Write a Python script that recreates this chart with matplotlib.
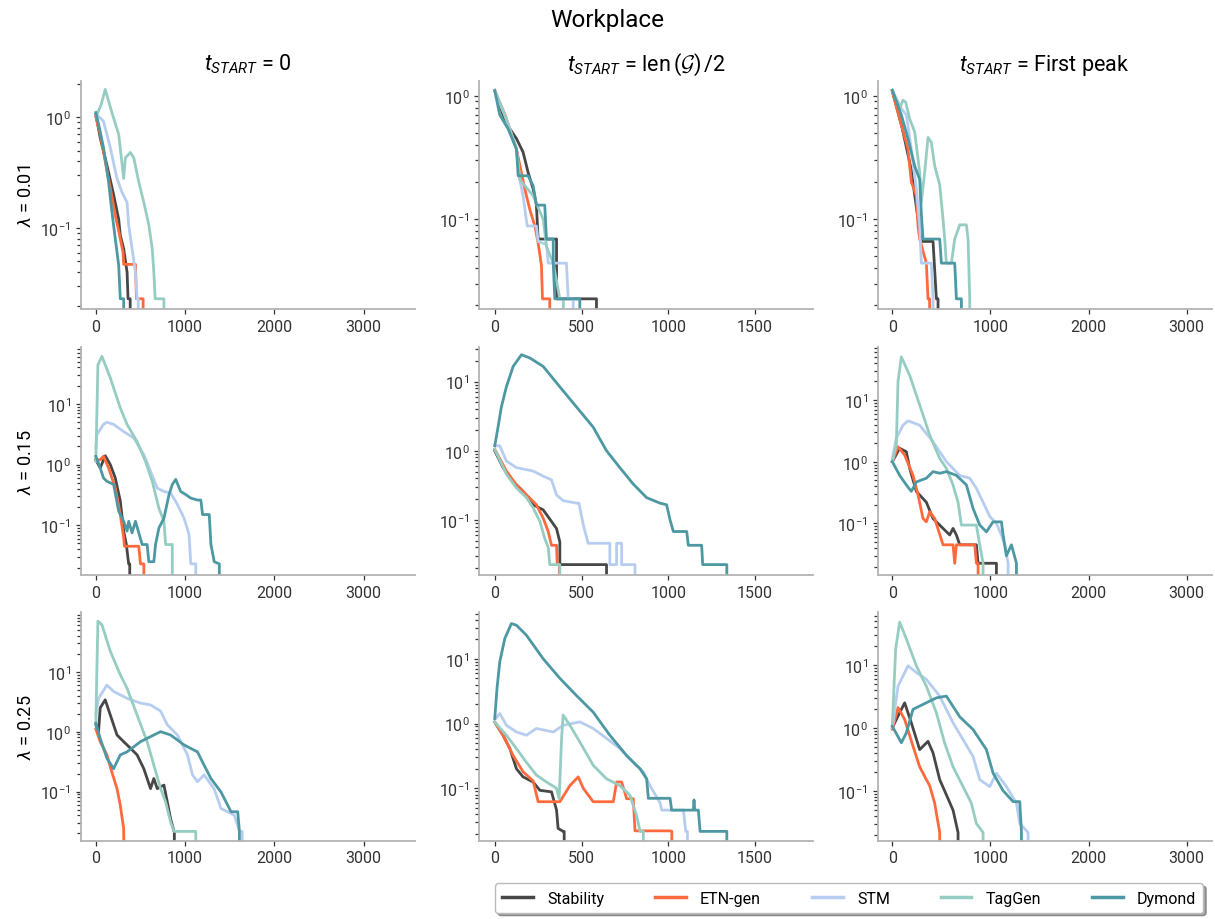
import matplotlib
matplotlib.use("Agg")
from matplotlib import pyplot as plt

# methods and colours
methods = ["Stability", "ETN-gen", "STM", "TagGen", "Dymond"]
colors = ["#474747", "#ff6a3d", "#b7cdf0", "#96cdc2", "#4c98a3"]

col_titles = [r"$t_{START}$ = 0", r"$t_{START}$ = len$\,(\mathcal{G})\,/$2", r"$t_{START}$ = First peak"]
row_titles = [r"$\lambda$ = 0.01", r"$\lambda$ = 0.15", r"$\lambda$ = 0.25"]

# each curve: (x values, y values); a trailing 0.001 means the curve drops to zero
lam001_zero = {
    "Stability": ([0, 49, 124, 199, 256, 274, 312, 350, 361, 385, 385],
                  [1.06, 0.65, 0.37, 0.2, 0.12, 0.086, 0.065, 0.04, 0.023, 0.023, 0.001]),
    "ETN-gen": ([0, 50, 100, 162, 218, 256, 305, 312, 444, 455, 530, 530],
                [1.0, 0.7, 0.42, 0.23, 0.13, 0.094, 0.06, 0.047, 0.047, 0.023, 0.023, 0.001]),
    "STM": ([10, 86, 162, 237, 293, 350, 368, 406, 444, 462, 475, 475],
            [1.05, 0.92, 0.53, 0.28, 0.21, 0.17, 0.106, 0.065, 0.04, 0.023, 0.023, 0.001]),
    "TagGen": ([10, 60, 105, 180, 256, 312, 331, 387, 425, 481, 538, 594, 632, 650, 665, 763, 763],
               [1.04, 1.3, 1.78, 1.1, 0.7, 0.28, 0.43, 0.48, 0.43, 0.26, 0.17, 0.106, 0.065, 0.04, 0.023, 0.023, 0.001]),
    "Dymond": ([0, 40, 86, 143, 180, 218, 256, 274, 312, 312],
               [1.1, 0.8, 0.53, 0.26, 0.14, 0.08, 0.046, 0.023, 0.023, 0.001]),
}

lam001_half = {
    "Stability": ([0, 48, 87, 125, 163, 192, 221, 240, 250, 356, 356, 586, 586],
                  [1.11, 0.7, 0.54, 0.45, 0.35, 0.24, 0.176, 0.13, 0.069, 0.069, 0.0226, 0.0226, 0.001]),
    "ETN-gen": ([0, 60, 125, 173, 202, 231, 250, 269, 275, 317, 317],
                [1.1, 0.7, 0.37, 0.176, 0.12, 0.088, 0.064, 0.042, 0.0226, 0.0226, 0.001]),
    "STM": ([0, 67, 125, 144, 163, 187, 240, 250, 298, 308, 413, 423, 452, 452],
            [1.11, 0.65, 0.37, 0.21, 0.155, 0.088, 0.088, 0.066, 0.062, 0.044, 0.044, 0.0226, 0.0226, 0.001]),
    "TagGen": ([0, 60, 125, 144, 221, 279, 298, 337, 375, 395, 395],
               [1.1, 0.68, 0.37, 0.21, 0.155, 0.1, 0.06, 0.044, 0.0226, 0.0226, 0.001]),
    "Dymond": ([0, 29, 77, 125, 135, 192, 221, 240, 288, 298, 337, 337, 346, 490, 490],
               [1.1, 0.7, 0.54, 0.37, 0.225, 0.225, 0.187, 0.13, 0.13, 0.069, 0.069, 0.044, 0.0226, 0.0226, 0.001]),
}

lam001_peak = {
    "Stability": ([0, 100, 194, 262, 296, 415, 449, 466, 466],
                  [1.1, 0.55, 0.25, 0.1, 0.066, 0.066, 0.0226, 0.0226, 0.001]),
    "ETN-gen": ([0, 160, 194, 245, 262, 279, 347, 364, 380, 380],
                [1.08, 0.37, 0.2, 0.155, 0.088, 0.069, 0.044, 0.0226, 0.0226, 0.001]),
    "STM": ([0, 92, 143, 194, 245, 279, 296, 398, 415, 415],
            [1.11, 0.79, 0.7, 0.37, 0.176, 0.088, 0.044, 0.044, 0.0226, 0.001]),
    "TagGen": ([0, 75, 109, 136, 177, 228, 279, 296, 330, 364, 398, 432, 483, 517, 534, 551, 602, 636, 687,
                755, 772, 789, 789],
               [1.11, 0.79, 0.92, 0.89, 0.65, 0.51, 0.24, 0.137, 0.24, 0.46, 0.42, 0.27, 0.19, 0.1, 0.069, 0.044,
                0.044, 0.069, 0.09, 0.09, 0.069, 0.0226, 0.001]),
    "Dymond": ([0, 92, 160, 228, 279, 296, 313, 483, 500, 636, 653, 704, 704],
               [1.11, 0.7, 0.45, 0.27, 0.21, 0.11, 0.069, 0.069, 0.044, 0.044, 0.0226, 0.0226, 0.001]),
}

lam015_zero = {
    "Stability": ([0, 49, 105, 162, 218, 274, 312, 342, 368, 380, 380],
                  [1.2, 0.88, 1.4, 1.0, 0.6, 0.25, 0.08, 0.048, 0.023, 0.023, 0.001]),
    "ETN-gen": ([0, 49, 86, 143, 218, 274, 312, 320, 481, 500, 538, 538],
                [1.2, 1.2, 1.37, 0.88, 0.41, 0.15, 0.062, 0.045, 0.045, 0.023, 0.023, 0.001]),
    "STM": ([0, 11, 86, 124, 199, 312, 425, 538, 613, 688, 763, 838, 914, 989, 1045, 1064, 1120, 1120],
            [1.9, 3.1, 4.6, 5.0, 4.6, 3.5, 2.75, 1.46, 0.78, 0.41, 0.36, 0.34, 0.22, 0.13, 0.07, 0.023, 0.023, 0.001]),
    "TagGen": ([0, 23, 68, 162, 274, 350, 462, 556, 632, 707, 763, 782, 857, 857],
               [1.13, 44, 61, 27, 8.6, 4.6, 2.4, 1.13, 0.53, 0.19, 0.117, 0.048, 0.048, 0.001]),
    "Dymond": ([0, 49, 86, 124, 199, 256, 312, 350, 368, 406, 444, 481, 519, 575, 594, 650, 669, 707, 763, 820,
                857, 895, 951, 1008, 1064, 1139, 1177, 1196, 1271, 1290, 1327, 1384, 1384],
               [1.37, 0.88, 0.6, 0.53, 0.47, 0.17, 0.116, 0.08, 0.116, 0.075, 0.116, 0.075, 0.048, 0.048, 0.025,
                0.025, 0.048, 0.09, 0.13, 0.32, 0.47, 0.57, 0.36, 0.32, 0.28, 0.26, 0.26, 0.15, 0.15, 0.048, 0.025,
                0.023, 0.001]),
}

lam015_half = {
    "Stability": ([0, 48, 106, 163, 221, 279, 327, 356, 375, 375, 644, 644],
                  [1.0, 0.57, 0.36, 0.26, 0.166, 0.14, 0.095, 0.075, 0.048, 0.0226, 0.0226, 0.001]),
    "ETN-gen": ([0, 67, 125, 183, 240, 279, 308, 327, 356, 360, 372, 372],
                [1.05, 0.51, 0.32, 0.23, 0.166, 0.106, 0.068, 0.043, 0.043, 0.0226, 0.0226, 0.001]),
    "STM": ([0, 29, 67, 125, 221, 279, 327, 356, 394, 471, 485, 510, 538, 663, 663, 702, 702, 731, 731, 808, 808],
            [1.18, 1.18, 0.71, 0.57, 0.51, 0.43, 0.38, 0.23, 0.19, 0.175, 0.175, 0.085, 0.046, 0.046, 0.0226,
             0.0226, 0.046, 0.046, 0.0226, 0.0226, 0.001]),
    "TagGen": ([0, 67, 125, 183, 221, 260, 288, 308, 317, 375, 375],
               [1.05, 0.46, 0.29, 0.21, 0.15, 0.095, 0.054, 0.04, 0.0226, 0.0226, 0.001]),
    "Dymond": ([0, 19, 38, 67, 106, 154, 202, 279, 375, 471, 567, 644, 721, 798, 875, 952, 990, 1010, 1029, 1106,
                1115, 1192, 1198, 1337, 1337],
               [1.18, 2.2, 4.3, 8.4, 16.6, 24.5, 22, 16.6, 8.4, 4.3, 2.2, 1.0, 0.57, 0.33, 0.21, 0.175, 0.166, 0.1,
                0.068, 0.068, 0.043, 0.043, 0.0226, 0.0226, 0.001]),
}

lam015_peak = {
    "Stability": ([0, 75, 143, 177, 245, 347, 415, 517, 585, 619, 653, 687, 857, 874, 1061, 1061],
                  [1.0, 1.65, 1.45, 0.78, 0.33, 0.22, 0.12, 0.083, 0.065, 0.083, 0.065, 0.045, 0.045, 0.0226,
                   0.0226, 0.001]),
    "ETN-gen": ([0, 58, 126, 211, 262, 313, 347, 381, 432, 517, 619, 636, 653, 840, 857, 874, 874],
                [1.0, 1.75, 1.28, 0.6, 0.29, 0.12, 0.106, 0.155, 0.12, 0.045, 0.045, 0.0226, 0.045, 0.045, 0.0226,
                 0.0226, 0.001]),
    "STM": ([0, 41, 109, 160, 279, 415, 551, 687, 789, 857, 925, 993, 1061, 1112, 1146, 1180, 1180],
            [1.13, 2.4, 3.9, 4.6, 3.9, 2.1, 1.0, 0.6, 0.54, 0.37, 0.22, 0.13, 0.1, 0.065, 0.045, 0.0226, 0.001]),
    "TagGen": ([0, 41, 58, 92, 177, 279, 381, 483, 551, 619, 670, 704, 857, 891, 925, 925],
               [1.0, 1.86, 19.8, 50, 25, 8.3, 2.7, 1.13, 0.78, 0.42, 0.22, 0.094, 0.094, 0.045, 0.0226, 0.001]),
    "Dymond": ([0, 75, 143, 194, 245, 347, 415, 483, 551, 653, 755, 823, 891, 959, 1027, 1112, 1129, 1163, 1214,
                1265, 1265],
               [1.0, 0.6, 0.42, 0.33, 0.47, 0.54, 0.69, 0.65, 0.69, 0.6, 0.42, 0.175, 0.094, 0.073, 0.106, 0.106,
                0.065, 0.03, 0.045, 0.0226, 0.001]),
}

lam025_zero = {
    "Stability": ([0, 30, 49, 105, 162, 237, 312, 387, 462, 538, 613, 650, 688, 763, 801, 838, 876, 880, 880],
                  [1.3, 1.0, 2.5, 3.4, 1.9, 0.88, 0.68, 0.53, 0.41, 0.24, 0.112, 0.165, 0.112, 0.128, 0.067, 0.035,
                   0.0216, 0.0216, 0.001]),
    "ETN-gen": ([0, 49, 124, 180, 237, 274, 312, 320],
                [1.1, 0.68, 0.41, 0.21, 0.112, 0.059, 0.024, 0.001]),
    "STM": ([0, 30, 124, 199, 350, 500, 613, 726, 801, 914, 1027, 1083, 1139, 1214, 1327, 1403, 1478, 1553, 1609,
             1640, 1640],
            [2.0, 3.6, 6.0, 4.7, 3.6, 3.0, 2.8, 2.2, 1.3, 0.88, 0.41, 0.19, 0.146, 0.19, 0.11, 0.052, 0.046, 0.04,
             0.0216, 0.0216, 0.001]),
    "TagGen": ([0, 11, 23, 68, 162, 274, 350, 462, 575, 650, 726, 782, 838, 876, 1120, 1120],
               [1.3, 10, 70, 61, 22, 8.9, 5.3, 1.9, 0.68, 0.276, 0.112, 0.067, 0.031, 0.0216, 0.0216, 0.001]),
    "Dymond": ([0, 49, 124, 199, 274, 350, 500, 650, 726, 838, 989, 1139, 1196, 1290, 1403, 1515, 1590, 1609, 1609],
               [1.38, 0.77, 0.36, 0.24, 0.41, 0.46, 0.68, 0.88, 1.0, 0.88, 0.6, 0.46, 0.31, 0.165, 0.098, 0.046,
                0.046, 0.0216, 0.001]),
}

lam025_half = {
    "Stability": ([0, 48, 87, 125, 163, 221, 260, 327, 356, 365, 394, 400, 400],
                  [1.05, 0.66, 0.41, 0.2, 0.15, 0.125, 0.093, 0.088, 0.046, 0.024, 0.0216, 0.0216, 0.001]),
    "ETN-gen": ([0, 48, 106, 163, 221, 250, 375, 433, 481, 510, 567, 683, 702, 731, 760, 798, 808, 1010, 1020, 1020],
                [1.05, 0.66, 0.32, 0.18, 0.13, 0.062, 0.062, 0.11, 0.15, 0.1, 0.062, 0.062, 0.125, 0.125, 0.069,
                 0.069, 0.022, 0.022, 0.0216, 0.001]),
    "STM": ([0, 29, 67, 125, 183, 240, 337, 394, 490, 567, 644, 721, 798, 856, 894, 952, 962, 1087, 1100, 1110, 1110],
            [1.14, 1.43, 0.94, 0.74, 0.66, 0.84, 0.74, 0.94, 1.06, 0.84, 0.59, 0.41, 0.25, 0.18, 0.11, 0.06, 0.046,
             0.046, 0.0216, 0.0216, 0.001]),
    "TagGen": ([0, 67, 125, 183, 240, 298, 356, 371, 385, 394, 433, 490, 567, 644, 721, 779, 817, 837, 856, 856],
               [1.05, 0.66, 0.41, 0.25, 0.16, 0.125, 0.1, 0.069, 0.59, 1.35, 0.94, 0.52, 0.227, 0.14, 0.11, 0.078,
                0.038, 0.0216, 0.0216, 0.001]),
    "Dymond": ([0, 13, 29, 58, 96, 125, 183, 279, 375, 471, 567, 663, 760, 837, 875, 885, 1010, 1019, 1144, 1148,
                1152, 1173, 1183, 1337, 1337],
               [1.2, 3.5, 9, 20.6, 35, 33, 23, 10, 5, 2.7, 1.5, 0.66, 0.32, 0.2, 0.14, 0.07, 0.07, 0.046, 0.046,
                0.066, 0.046, 0.046, 0.0216, 0.0216, 0.001]),
}

lam025_peak = {
    "Stability": ([0, 58, 126, 194, 279, 364, 415, 483, 551, 619, 670, 670],
                  [1.0, 1.54, 2.5, 1.2, 0.45, 0.61, 0.4, 0.15, 0.086, 0.049, 0.0216, 0.001]),
    "ETN-gen": ([0, 58, 126, 211, 279, 347, 381, 432, 483, 483],
                [0.95, 2.1, 1.36, 0.51, 0.24, 0.15, 0.12, 0.063, 0.0216, 0.001]),
    "STM": ([0, 58, 160, 245, 347, 483, 619, 721, 823, 891, 993, 1061, 1163, 1265, 1299, 1384, 1384],
            [1.0, 4.6, 9.7, 7.6, 5.9, 3.2, 1.2, 0.65, 0.35, 0.15, 0.116, 0.19, 0.116, 0.063, 0.03, 0.0216, 0.001]),
    "TagGen": ([0, 34, 75, 143, 245, 347, 449, 534, 619, 721, 806, 857, 925, 925],
               [1.06, 17.9, 48, 26, 9.7, 4.6, 1.74, 0.57, 0.24, 0.116, 0.063, 0.03, 0.0216, 0.001]),
    "Dymond": ([0, 92, 143, 211, 313, 449, 551, 687, 823, 959, 1027, 1129, 1231, 1299, 1316, 1316],
               [1.06, 0.58, 0.83, 1.97, 2.36, 3.0, 3.2, 1.5, 0.94, 0.45, 0.19, 0.1, 0.067, 0.067, 0.0216, 0.001]),
}

panels = [[lam001_zero, lam001_half, lam001_peak],
          [lam015_zero, lam015_half, lam015_peak],
          [lam025_zero, lam025_half, lam025_peak]]

# axis ranges
col_xlims = [(-170, 3575), (-90, 1835), (-150, 3255)]
col_xticks = [[0, 1000, 2000, 3000], [0, 500, 1000, 1500], [0, 1000, 2000, 3000]]
ylims = [[(0.0185, 2.12), (0.0186, 1.32), (0.0186, 1.32)],
         [(0.0151, 88), (0.016, 32), (0.0146, 73)],
         [(0.0151, 98), (0.0155, 52), (0.016, 68.6)]]

plt.rcParams['font.family'] = ['Roboto', 'DejaVu Sans']
plt.rcParams['mathtext.fontset'] = 'custom'
plt.rcParams['mathtext.rm'] = 'Roboto'
plt.rcParams['mathtext.it'] = 'Roboto:italic'
plt.rcParams['mathtext.bf'] = 'Roboto:bold'
plt.rcParams['mathtext.cal'] = 'cmsy10'

fig, axes = plt.subplots(3, 3, figsize=(12.15, 9.2), dpi=100)
fig.subplots_adjust(left=0.0664, right=0.9973, bottom=0.0851, top=0.9109, wspace=0.1925, hspace=0.164)

for r in range(3):
    for c in range(3):
        ax = axes[r, c]
        data = panels[r][c]
        for m, col in zip(methods, colors):
            xs, ys = data[m]
            ax.plot(xs, ys, color=col, linewidth=2.0, label=m)
        ax.set_yscale('log')
        ax.set_xlim(col_xlims[c])
        ax.set_ylim(ylims[r][c])
        ax.set_xticks(col_xticks[c])
        ax.tick_params(axis='both', which='both', colors='#333333', labelsize=11.5, length=3.5, width=0.9)
        ax.tick_params(axis='y', which='minor', length=3)
        for side in ['top', 'right']:
            ax.spines[side].set_visible(False)
        for side in ['left', 'bottom']:
            ax.spines[side].set_color('#b3b3b3')
            ax.spines[side].set_linewidth(1.3)
        if r == 0:
            ax.set_title(col_titles[c], fontsize=15.5, pad=8)
        if c == 0:
            ax.set_ylabel(row_titles[r], fontsize=13)

fig.suptitle('Workplace', fontsize=17.5, y=0.99)

handles, labels = axes[0, 0].get_legend_handles_labels()
leg = fig.legend(handles, labels, loc='lower right', bbox_to_anchor=(0.997, -0.002), ncol=5, fontsize=11.5,
                 handlelength=1.9, handletextpad=0.9, columnspacing=3.2, shadow=True, fancybox=True,
                 framealpha=1, edgecolor='#bbbbbb', borderpad=0.45)
for line in leg.get_lines():
    line.set_linewidth(2.5)

plt.savefig('out.png', dpi=100)
